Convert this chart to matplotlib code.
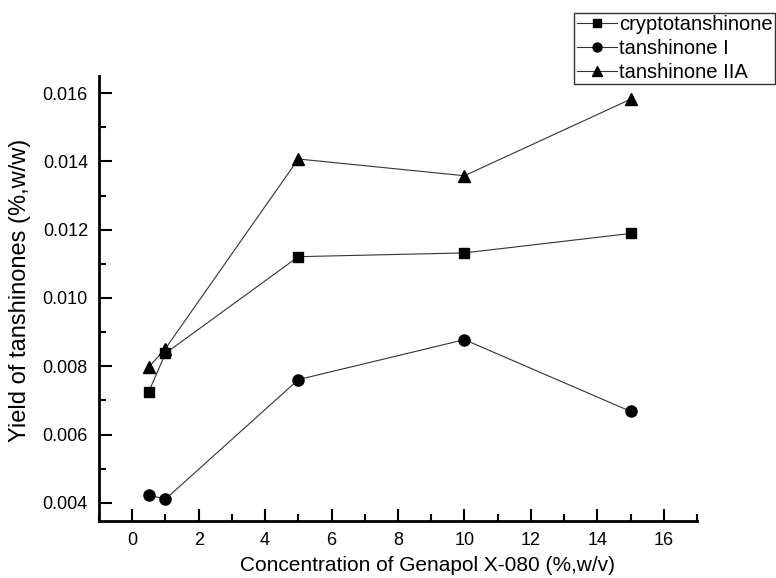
import matplotlib
matplotlib.use("Agg")
import matplotlib.pyplot as plt
from matplotlib.ticker import MultipleLocator

plt.rcParams['font.family'] = ['Liberation Sans', 'DejaVu Sans']

# concentration of Genapol X-080 (%, w/v)
conc = [0.5, 1, 5, 10, 15]
# yields (%, w/w)
crypto = [0.00726, 0.00838, 0.01121, 0.01132, 0.01189]
tan_i = [0.00423, 0.00411, 0.00761, 0.00878, 0.00668]
tan_iia = [0.00798, 0.00852, 0.01407, 0.01358, 0.01582]

fig = plt.figure(figsize=(7.76, 5.78), dpi=100)
ax = fig.add_axes([0.1276, 0.0986, 0.7706, 0.7699])

ax.plot(conc, crypto, color='#333333', lw=0.8, marker='s', ms=6.5,
        mfc='black', mec='black', label='cryptotanshinone')
ax.plot(conc, tan_i, color='#333333', lw=0.8, marker='o', ms=8,
        mfc='black', mec='black', label='tanshinone I')
ax.plot(conc, tan_iia, color='#333333', lw=0.8, marker='^', ms=8.5,
        mfc='black', mec='black', label='tanshinone IIA')

ax.set_xlim(-1, 17)
ax.set_ylim(0.00347, 0.0165)
ax.xaxis.set_major_locator(MultipleLocator(2))
ax.xaxis.set_minor_locator(MultipleLocator(1))
ax.yaxis.set_major_locator(MultipleLocator(0.002))
ax.yaxis.set_minor_locator(MultipleLocator(0.001))
ax.yaxis.set_major_formatter(plt.FuncFormatter(lambda v, p: '%.3f' % v))

for s in ['top', 'right']:
    ax.spines[s].set_visible(False)
for s in ['left', 'bottom']:
    ax.spines[s].set_linewidth(2)

ax.tick_params(which='major', direction='in', length=9, width=1.5, labelsize=13, pad=8)
ax.tick_params(which='minor', direction='in', length=5, width=1.5)

ax.set_xlabel('Concentration of Genapol X-080 (%,w/v)', fontsize=15)
ax.xaxis.set_label_coords(0.55, -0.078)
ax.set_ylabel('Yield of tanshinones (%,w/w)', fontsize=17)
ax.yaxis.set_label_coords(-0.114, 0.519)

leg = fig.legend(loc='upper right', bbox_to_anchor=(775 / 776, 1 - 12.5 / 578),
                 fontsize=14.5, frameon=True, fancybox=False, edgecolor='black',
                 borderpad=0.12, borderaxespad=0, handlelength=2.0,
                 handletextpad=0.1, labelspacing=0.25, markerscale=0.8)
leg.get_frame().set_linewidth(1.0)

fig.savefig('out.png', dpi=100)
